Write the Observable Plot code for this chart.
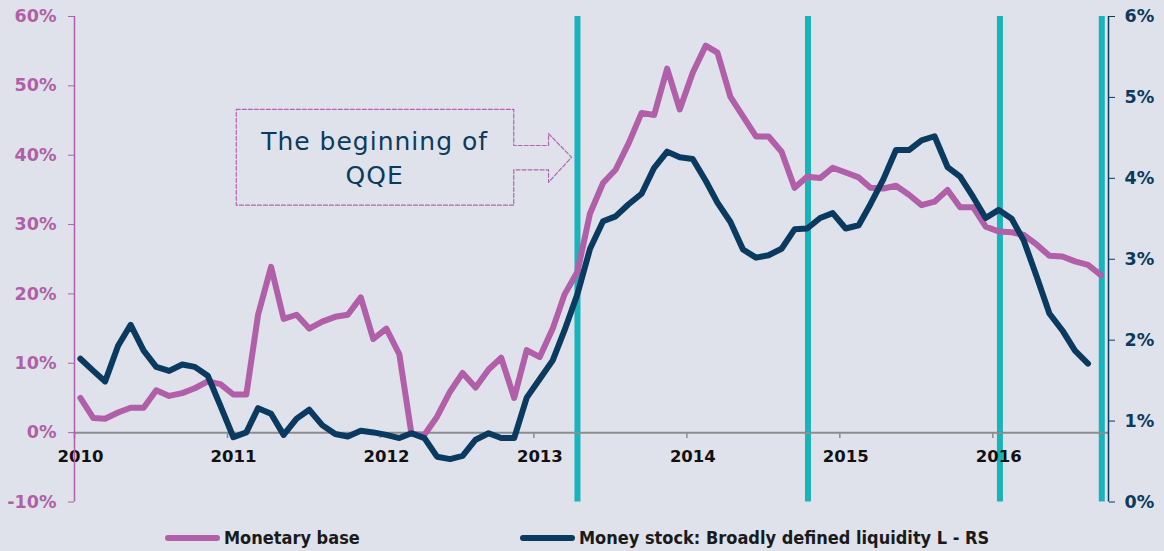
<!DOCTYPE html>
<html><head><meta charset="utf-8">
<script src="https://cdn.jsdelivr.net/npm/d3@7"></script>
<script src="https://cdn.jsdelivr.net/npm/@observablehq/plot@0.6"></script>
<style>
html,body{margin:0;padding:0;background:#dfe2ea;}
#chart{width:1164px;height:551px;position:relative;overflow:hidden;background:#dfe2ea;}
.legend{position:relative;height:36px;width:1164px;font-family:"DejaVu Sans Condensed","DejaVu Sans",sans-serif;font-stretch:condensed;font-weight:bold;font-size:18px;color:#1a1a1a;}
.item{position:absolute;top:12px;display:flex;align-items:center;white-space:nowrap;}
.sw{display:inline-block;width:55px;height:6px;border-radius:3px;margin-right:4px;}
</style>
</head><body>
<div id="chart"></div>
<script>
// ---- data ----
const seriesNames = ["Monetary base", "Money stock: Broadly defined liquidity L - RS"];
// monthly, Jan 2010 .. Sep 2016, y/y % (left axis)
const monetaryBase = [5.0,2.1,2.0,2.9,3.6,3.6,6.1,5.3,5.7,6.4,
  7.4,7.0,5.5,5.5,17.0,23.9,16.4,17.0,15.0,16.0,
  16.7,17.0,19.5,13.5,15.0,11.3,-0.2,-0.3,2.3,5.9,
  8.6,6.5,9.1,10.8,5.0,11.9,10.9,15.0,19.9,23.2,
  31.6,36.0,37.9,41.7,46.1,45.8,52.5,46.6,51.9,55.8,
  54.8,48.4,45.6,42.7,42.7,40.5,35.3,36.9,36.7,38.2,
  37.5,36.8,35.3,35.2,35.6,34.3,32.8,33.3,35.0,32.5,
  32.5,29.7,29.0,28.9,28.5,27.1,25.5,25.4,24.7,24.2,22.7];
// monthly, Jan 2010 .. Aug 2016, y/y % (right axis)
const liquidityL = [1.77,1.62,1.49,1.93,2.19,1.87,1.67,1.62,1.70,1.67,
  1.56,1.19,0.80,0.86,1.16,1.09,0.83,1.03,1.14,0.95,
  0.84,0.81,0.88,0.86,0.83,0.79,0.85,0.79,0.56,0.53,
  0.57,0.77,0.85,0.79,0.79,1.29,1.52,1.75,2.12,2.57,
  3.13,3.47,3.53,3.68,3.81,4.13,4.33,4.26,4.24,3.97,
  3.70,3.46,3.12,3.02,3.05,3.13,3.37,3.38,3.51,3.57,
  3.38,3.42,3.68,3.99,4.35,4.35,4.47,4.52,4.14,4.02,
  3.77,3.51,3.61,3.50,3.23,2.78,2.33,2.12,1.87,1.71];
const policyDates = ["2013-04-15","2014-10-17","2016-01-18","2016-09-17"];
const yearLabels = ["2010","2011","2012","2013","2014","2015","2016"];
const leftTicks = [-10,0,10,20,30,40,50,60];
const rightTicks = [0,1,2,3,4,5,6];
const annotationText = "The beginning of\nQQE";
const calloutDates = ["2011-01-22","2012-11-14","2012-11-14","2013-02-05","2013-02-05","2013-04-01","2013-02-05","2013-02-05","2012-11-14","2012-11-14","2011-01-22","2011-01-22"];
const calloutValues = [46.6,46.6,41.4,41.4,43.1,39.7,36.1,37.9,37.9,32.8,32.8,46.6];

// ---- styling ----
const pink = "#b05fa8", navy = "#0b3a60", teal = "#19b4ba", gray = "#8c8c8c";
const xDomain = [new Date(Date.UTC(2010,0,1)), new Date(Date.UTC(2016,9,3))];
const leftDomain = [-10, 60], rightDomain = [0, 6];
const toLeft = r => leftDomain[0] + (r - rightDomain[0]) / (rightDomain[1]-rightDomain[0]) * (leftDomain[1]-leftDomain[0]);
const toRight = v => (v - leftDomain[0]) / (leftDomain[1]-leftDomain[0]) * (rightDomain[1]-rightDomain[0]) + rightDomain[0];
const monthDate = i => new Date(Date.UTC(2010, i, 15));
const pd = s => new Date(s + "T00:00:00Z");

const baseRows = monetaryBase.map((v,i)=>({date: monthDate(i), value: v}));
const liqRows = liquidityL.map((v,i)=>({date: monthDate(i), value: toLeft(v)}));
const yearRows = yearLabels.map(y=>({date: pd(y+"-01-01"), label: y}));
const callout = calloutDates.map((d,i)=>({date: pd(d), value: calloutValues[i]}));
const font = "DejaVu Sans, sans-serif";

const plot = Plot.plot({
  width: 1164, height: 515,
  marginLeft: 74, marginRight: 56, marginTop: 16, marginBottom: 13.5,
  style: {background: "transparent", fontFamily: font, overflow: "visible"},
  x: {type: "utc", domain: xDomain, axis: null},
  y: {domain: leftDomain, axis: null},
  marks: [
    Plot.ruleX(policyDates.map(pd), {stroke: teal, strokeWidth: 6}),
    Plot.ruleY([0], {stroke: gray, strokeWidth: 2}),
    Plot.ruleX(yearRows, {x: "date", y1: () => 0, y2: () => -0.85, stroke: gray, strokeWidth: 1.5}),
    Plot.text(yearRows, {x: "date", y: () => 0, text: "label", dy: 24, dx: 6, fontSize: 16.5, fontWeight: "bold", fill: "#111", fontFamily: font}),
    Plot.ruleX([xDomain[0]], {stroke: pink, strokeWidth: 1.5}),
    Plot.ruleX([xDomain[1]], {stroke: navy, strokeWidth: 1.5}),
    Plot.axisY({anchor: "left", ticks: leftTicks, tickFormat: d => d + "%", tickSize: 6, tickPadding: 12, stroke: pink, fill: pink, fontSize: 17.5, fontWeight: "bold", label: null, fontFamily: font}),
    Plot.axisY({anchor: "right", ticks: rightTicks.map(toLeft), tickFormat: d => Math.round(toRight(d)) + "%", tickSize: 6, tickPadding: 10, stroke: navy, fill: navy, fontSize: 17.5, fontWeight: "bold", label: null, fontFamily: font}),
    Plot.line(callout, {x: "date", y: "value", stroke: "#b565b0", strokeWidth: 1.2, strokeDasharray: "4,2"}),
    Plot.text([{date: pd("2011-12-18"), value: 39.8, t: annotationText}], {x: "date", y: "value", text: "t", fontSize: 25, lineHeight: 1.36, fill: navy, fontFamily: font}),
    Plot.line(baseRows, {x: "date", y: "value", stroke: pink, strokeWidth: 6, strokeLinejoin: "round", strokeLinecap: "round"}),
    Plot.line(liqRows, {x: "date", y: "value", stroke: navy, strokeWidth: 6, strokeLinejoin: "round", strokeLinecap: "round"})
  ]
});
d3.select(plot).selectAll("text")
  .filter(function() { return this.textContent.indexOf("beginning") >= 0; })
  .style("letter-spacing", "1px");
const chart = document.getElementById("chart");
chart.appendChild(plot);

const legend = document.createElement("div");
legend.className = "legend";
const colors = [pink, navy];
const lefts = [165, 520];
seriesNames.forEach((name, i) => {
  const it = document.createElement("div");
  it.className = "item";
  it.style.left = lefts[i] + "px";
  const sw = document.createElement("span");
  sw.className = "sw"; sw.style.background = colors[i];
  const tx = document.createElement("span");
  tx.textContent = name;
  it.appendChild(sw); it.appendChild(tx);
  legend.appendChild(it);
});
chart.appendChild(legend);
</script>
</body></html>
